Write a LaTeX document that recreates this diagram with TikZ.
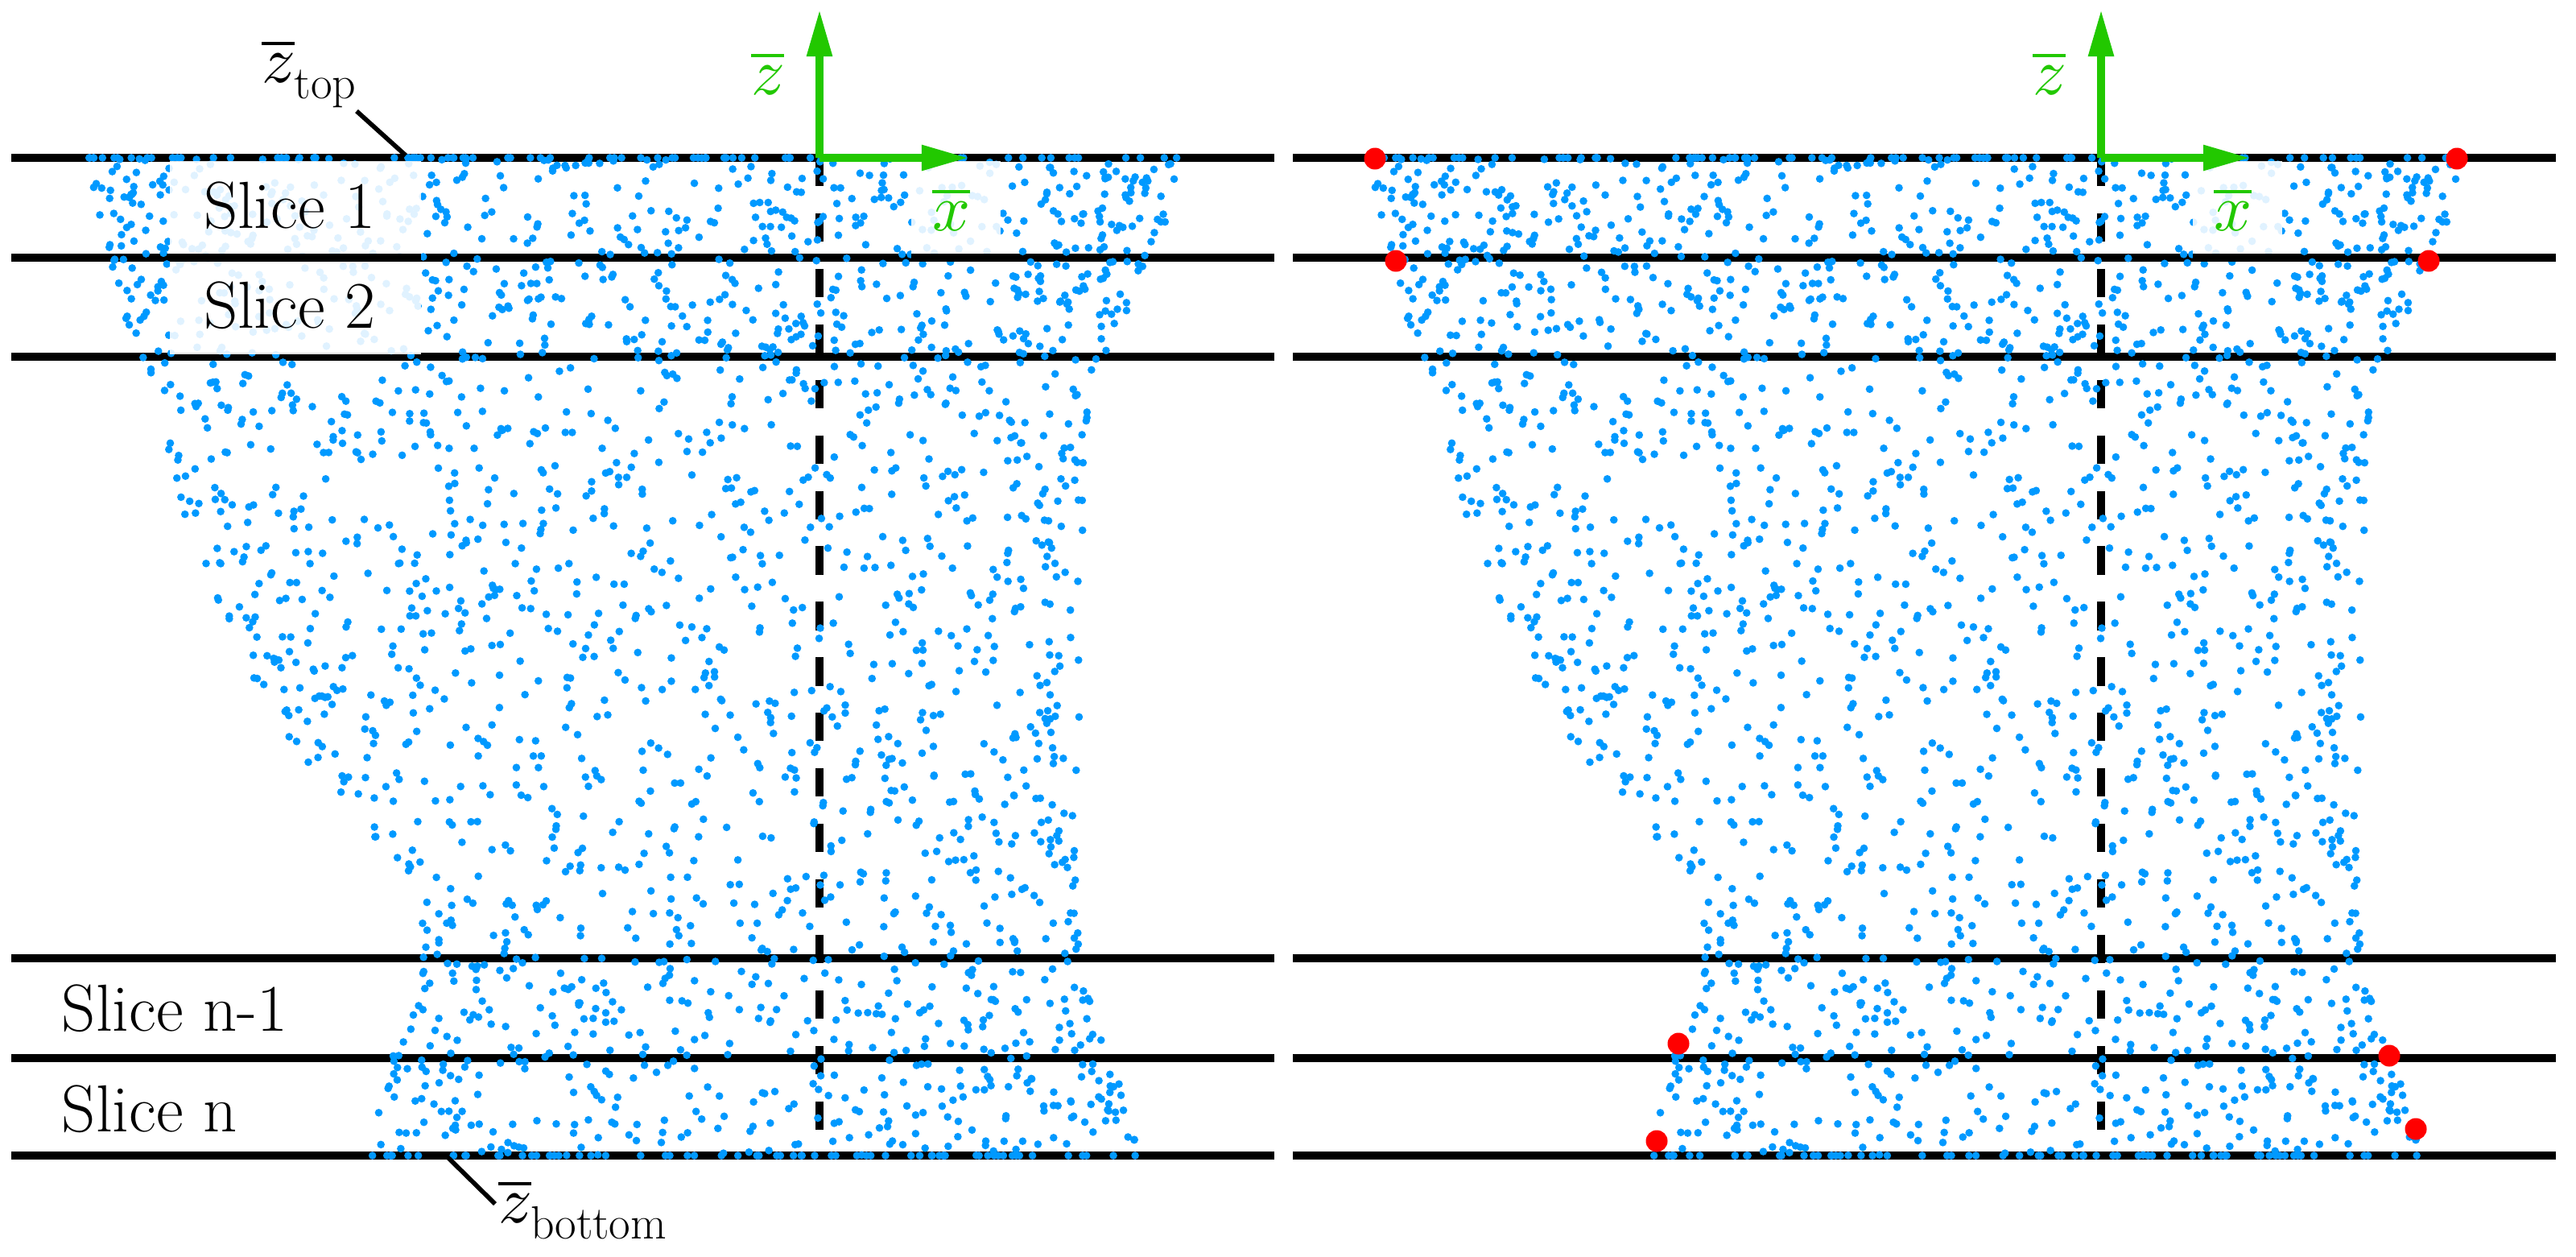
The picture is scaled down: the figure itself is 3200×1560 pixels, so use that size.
\documentclass[tikz,border=0pt]{standalone}
\usepackage{unicode-math}
\usetikzlibrary{arrows.meta}
\definecolor{ptblue}{RGB}{0,153,255}
\definecolor{axgreen}{RGB}{34,200,0}
\definecolor{ptred}{RGB}{255,0,0}
\newcommand\cloudoff{0}
\newcommand\cloudseg[7]{%
  \pgfmathtruncatemacro\cN{((#3-#2)+(#6-#5))/2/#7*(#4-#1)}%
  \ifnum\cN>0
  \foreach \k in {1,...,\cN}{%
    \pgfmathsetmacro\cT{rnd}%
    \pgfmathsetmacro\cV{rnd}%
    \pgfmathsetmacro\cU{0.6*\cV+0.2*(1-cos(180*\cV))}%
    \pgfmathsetmacro\cY{#1+\cT*(#4-#1)}%
    \pgfmathsetmacro\cL{#2+\cT*(#5-#2)}%
    \pgfmathsetmacro\cR{#3+\cT*(#6-#3)}%
    \pgfmathsetmacro\cX{\cloudoff+\cL+\cU*(\cR-\cL)}%
    \fill[ptblue] (\cX,\cY) circle[radius=0.048cm];
  }\fi}
\newcommand\cloudrow[4]{% y, x0, x1, count
  \foreach \k in {1,...,#4}{%
    \pgfmathsetmacro\cX{\cloudoff+#2+rnd*(#3-#2)}%
    \fill[ptblue] (\cX,#1) circle[radius=0.048cm];
  }}
\newcommand\drawcloud{%
  \pgfmathsetseed{4242}%
  \cloudrow{196}{110}{1463}{85}%
  \cloudrow{1435}{462}{1418}{65}%
  \cloudseg{196}{110}{1463}{236}{113}{1463}{400}%
  \cloudseg{236}{113}{1463}{270}{120}{1457}{400}%
  \cloudseg{270}{120}{1457}{305}{130}{1443}{400}%
  \cloudseg{305}{130}{1443}{320}{136}{1430}{400}%
  \cloudseg{320}{136}{1430}{365}{147}{1410}{420}%
  \cloudseg{365}{147}{1410}{408}{160}{1390}{420}%
  \cloudseg{408}{160}{1390}{443}{170}{1375}{420}%
  \cloudseg{443}{170}{1375}{494}{185}{1353}{600}%
  \cloudseg{494}{185}{1353}{535}{199}{1350}{650}%
  \cloudseg{535}{199}{1350}{584}{217}{1348}{650}%
  \cloudseg{584}{217}{1348}{649}{232}{1346}{650}%
  \cloudseg{649}{232}{1346}{706}{254}{1345}{650}%
  \cloudseg{706}{254}{1345}{752}{270}{1343}{650}%
  \cloudseg{752}{270}{1343}{801}{295}{1342}{650}%
  \cloudseg{801}{295}{1342}{844}{312}{1341}{650}%
  \cloudseg{844}{312}{1341}{872}{333}{1341}{650}%
  \cloudseg{872}{333}{1341}{909}{353}{1340}{650}%
  \cloudseg{909}{353}{1340}{937}{371}{1339}{650}%
  \cloudseg{937}{371}{1339}{964}{397}{1339}{650}%
  \cloudseg{964}{397}{1339}{985}{415}{1338}{650}%
  \cloudseg{985}{415}{1338}{1007}{435}{1338}{650}%
  \cloudseg{1007}{435}{1338}{1045}{469}{1337}{650}%
  \cloudseg{1045}{469}{1337}{1061}{490}{1337}{650}%
  \cloudseg{1061}{490}{1337}{1099}{511}{1338}{650}%
  \cloudseg{1099}{511}{1338}{1126}{520}{1339}{650}%
  \cloudseg{1126}{520}{1339}{1170}{523}{1340}{650}%
  \cloudseg{1170}{523}{1340}{1190}{525}{1340}{600}%
  \cloudseg{1190}{525}{1340}{1250}{505}{1360}{500}%
  \cloudseg{1250}{505}{1360}{1302}{490}{1377}{500}%
  \cloudseg{1302}{490}{1377}{1314}{485}{1382}{500}%
  \cloudseg{1314}{485}{1382}{1371}{472}{1403}{500}%
  \cloudseg{1371}{472}{1403}{1405}{466}{1413}{500}%
  \cloudseg{1405}{466}{1413}{1435}{462}{1418}{500}%
}
\tikzset{
  slab/.style={line width=2.6pt, black},
  midline/.style={line width=2.6pt, black, dash pattern=on 10pt off 9.6pt},
  fadebox/.style={fill=white, fill opacity=0.88},
  lbl/.style={anchor=base west, inner sep=0pt, outer sep=0pt, font=\fontsize{23.5}{28}\selectfont},
  leader/.style={line width=1.6pt, black},
  axis/.style={line width=2.6pt, axgreen, -{Triangle[length=16.5pt,width=8.5pt]}},
  keypt/.style={fill=ptred},
}
\begin{document}
\begin{tikzpicture}[x=0.01cm, y=-0.01cm]
\useasboundingbox (0,0) rectangle (3200,1560);
% slice lines
\foreach \yy in {196,320,443,1190,1314,1435}{
  \draw[slab] (14,\yy) -- (1583,\yy);
  \draw[slab] (1606,\yy) -- (3175,\yy);
}
\draw[midline] (1018,196) -- (1018,1435);
\draw[midline] (2610,196) -- (2610,1435);
% point clouds
\renewcommand\cloudoff{0}\drawcloud
\renewcommand\cloudoff{1592}\drawcloud
% faded label boxes
\fill[fadebox] (211,200) rectangle (523,316);
\fill[fadebox] (211,324) rectangle (523,440);
\fill[fadebox] (1132,200) rectangle (1243,316);
\fill[fadebox] (2724,200) rectangle (2835,316);
\draw[slab] (211,320) -- (523,320);
\draw[slab] (1132,320) -- (1243,320);
\draw[slab] (2724,320) -- (2835,320);
% slice labels
\node[lbl] (s1) at (253,283) {Slice 1};
\node[lbl] (s2) at (253,407) {Slice 2};
\node[lbl] (sn1) at (77,1280) {Slice n-1};
\node[lbl] (sn) at (77,1405) {Slice n};
% z top / bottom labels with leaders
\node[lbl] (ztop) at (325,102) {$\overline{z}_{\mathrm{top}}$};
\coordinate (ztopA) at (443,138);
\coordinate (ztopB) at (504,193);
\draw[leader] (ztopA) -- (ztopB);
\node[lbl] (zbot) at (619,1518) {$\overline{z}_{\mathrm{bottom}}$};
\coordinate (zbotA) at (556,1437);
\coordinate (zbotB) at (615,1495);
\draw[leader] (zbotA) -- (zbotB);
% axes left
\coordinate (O1) at (1018,196);
\coordinate (Z1) at (1018,12);
\coordinate (X1) at (1203,196);
\draw[axis] (O1) -- (Z1);
\draw[axis] (O1) -- (X1);
\node[lbl, text=axgreen] (zax1) at (933,117) {$\overline{z}$};
\node[lbl, text=axgreen] (xax1) at (1158,286) {$\overline{x}$};
% axes right
\coordinate (O2) at (2610,196);
\coordinate (Z2) at (2610,12);
\coordinate (X2) at (2795,196);
\draw[axis] (O2) -- (Z2);
\draw[axis] (O2) -- (X2);
\node[lbl, text=axgreen] (zax2) at (2525,117) {$\overline{z}$};
\node[lbl, text=axgreen] (xax2) at (2750,286) {$\overline{x}$};
% extreme points
\foreach \px/\py in {1708/197, 3052/197, 1734/324, 3017/324, 2085/1296, 2968/1311, 2058/1417, 3001/1402}{
  \fill[keypt] (\px,\py) circle[radius=0.135cm];
}
\end{tikzpicture}
\end{document}
